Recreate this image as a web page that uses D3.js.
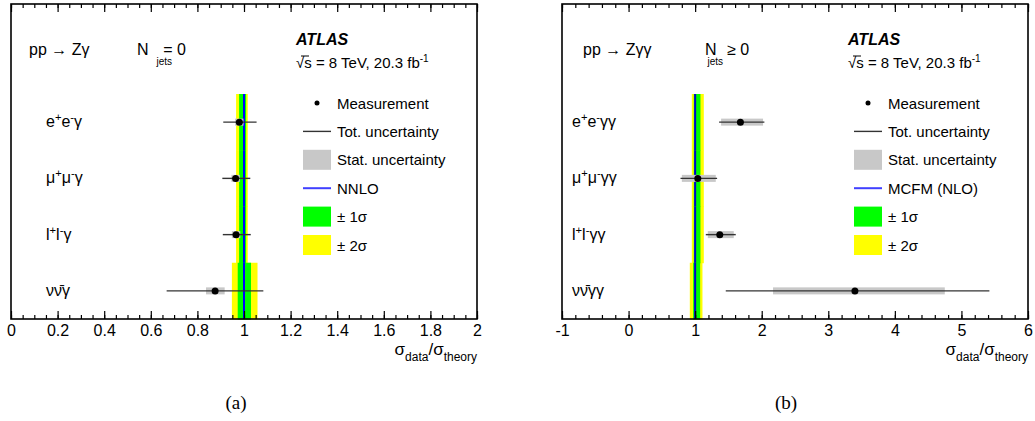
<!DOCTYPE html>
<html><head><meta charset="utf-8">
<script src="https://cdn.jsdelivr.net/npm/d3@7"></script>
<style>
html,body{margin:0;padding:0;background:#fff;}
text{font-family:"Liberation Sans",Arial,sans-serif;fill:#000;}
</style></head>
<body>
<svg id="chart" width="1035" height="421"></svg>
<script>
// ---------- DATA ----------
// panel (a): pp -> Z gamma, Njets = 0
const categoriesA = ["e+e-γ", "μ+μ-γ", "l+l-γ", "νν̄γ"];
const ratioA   = [0.980, 0.964, 0.966, 0.876];
const totLoA   = [0.911, 0.907, 0.909, 0.668];
const totHiA   = [1.054, 1.027, 1.029, 1.083];
const statLoA  = [0.962, 0.946, 0.948, 0.837];
const statHiA  = [0.998, 0.982, 0.984, 0.917];
const theoryA  = [1.0, 1.0, 1.0, 1.0];
const sig1LoA  = [0.979, 0.979, 0.979, 0.973];
const sig1HiA  = [1.009, 1.009, 1.009, 1.030];
const sig2LoA  = [0.966, 0.966, 0.966, 0.948];
const sig2HiA  = [1.016, 1.016, 1.016, 1.058];
const tickLabelsA = [0, 0.2, 0.4, 0.6, 0.8, 1, 1.2, 1.4, 1.6, 1.8, 2];

// panel (b): pp -> Z gamma gamma, Njets >= 0
const categoriesB = ["e+e-γγ", "μ+μ-γγ", "l+l-γγ", "νν̄γγ"];
const ratioB   = [1.68, 1.04, 1.37, 3.40];
const totLoB   = [1.36, 0.78, 1.16, 1.46];
const totHiB   = [2.04, 1.33, 1.61, 5.42];
const statLoB  = [1.39, 0.80, 1.19, 2.17];
const statHiB  = [2.02, 1.31, 1.58, 4.75];
const theoryB  = [1.0, 1.0, 1.0, 1.0];
const sig1LoB  = [0.98, 0.98, 0.98, 0.97];
const sig1HiB  = [1.08, 1.08, 1.08, 1.075];
const sig2LoB  = [0.95, 0.95, 0.95, 0.92];
const sig2HiB  = [1.13, 1.13, 1.13, 1.11];
const tickLabelsB = [-1, 0, 1, 2, 3, 4, 5, 6];

const legendLabelsA = ["Measurement", "Tot. uncertainty", "Stat. uncertainty", "NNLO", "± 1σ", "± 2σ"];
const legendLabelsB = ["Measurement", "Tot. uncertainty", "Stat. uncertainty", "MCFM (NLO)", "± 1σ", "± 2σ"];

// ---------- DRAW ----------
const svg = d3.select("#chart");
const FONT = 15;

// split a label into runs: '+'/'-' are superscripts
function runs(str) {
  const out = [];
  for (const ch of str) {
    const sup = (ch === "+" || ch === "-");
    const last = out[out.length - 1];
    if (/\p{M}/u.test(ch) && last) { last.text += ch; continue; }
    if (last && last.sup === sup && !sup) last.text += ch;
    else out.push({ text: ch, sup });
  }
  return out;
}

function labelText(g, str, x, y, size) {
  const t = g.append("text").attr("x", x).attr("y", y).style("font-size", size + "px");
  let level = 0;
  runs(str).forEach(r => {
    const target = r.sup ? -6 : 0;
    const ts = t.append("tspan").attr("dy", target - level).text(r.text);
    if (r.sup) ts.style("font-size", (size * 0.7) + "px");
    level = target;
  });
  return t;
}

function drawPanel(cfg) {
  const g = svg.append("g");
  const x = d3.scaleLinear().domain(cfg.domain).range([cfg.left, cfg.right]);
  const y = d3.scaleLinear().domain([-0.5, 3.5]).range([94, cfg.bottom]);
  const idx = cfg.cats.map((d, i) => i);

  // theory bands
  g.selectAll(".y2").data(idx).join("rect")
    .attr("x", i => x(cfg.s2lo[i])).attr("width", i => x(cfg.s2hi[i]) - x(cfg.s2lo[i]))
    .attr("y", i => y(i - 0.5)).attr("height", i => y(i + 0.5) - y(i - 0.5) + 0.5)
    .attr("fill", "#ffff00");
  g.selectAll(".g1").data(idx).join("rect")
    .attr("x", i => x(cfg.s1lo[i])).attr("width", i => x(cfg.s1hi[i]) - x(cfg.s1lo[i]))
    .attr("y", i => y(i - 0.5)).attr("height", i => y(i + 0.5) - y(i - 0.5) + 0.5)
    .attr("fill", "#00ff00");
  g.selectAll(".th").data(idx).join("line")
    .attr("x1", i => x(cfg.theory[i])).attr("x2", i => x(cfg.theory[i]))
    .attr("y1", i => y(i - 0.5)).attr("y2", i => y(i + 0.5))
    .attr("stroke", cfg.lineColor).attr("stroke-width", 2);

  // stat
  g.selectAll(".st").data(idx).join("rect")
    .attr("x", i => x(cfg.statLo[i])).attr("width", i => x(cfg.statHi[i]) - x(cfg.statLo[i]))
    .attr("y", i => y(i) - 3.5).attr("height", 7)
    .attr("fill", "#c8c8c8");
  // total
  g.selectAll(".tot").data(idx).join("line")
    .attr("x1", i => x(cfg.totLo[i])).attr("x2", i => x(cfg.totHi[i]))
    .attr("y1", i => y(i)).attr("y2", i => y(i))
    .attr("stroke", "#333").attr("stroke-width", 1.4);
  // points
  g.selectAll(".pt").data(idx).join("circle")
    .attr("cx", i => x(cfg.ratio[i])).attr("cy", i => y(i)).attr("r", 3.5).attr("fill", "#000");

  // category labels
  idx.forEach(i => labelText(g, cfg.cats[i], cfg.catX, y(i) + 5, 16));

  // axes
  const minor = x.ticks(cfg.minorCount);
  g.append("g").attr("transform", `translate(0,${cfg.bottom})`)
    .call(d3.axisBottom(x).tickValues(minor).tickSize(-4).tickFormat(""))
    .call(a => a.select(".domain").remove());
  g.append("g").attr("transform", `translate(0,${cfg.bottom})`)
    .call(d3.axisBottom(x).tickValues(cfg.ticks).tickSizeInner(-8).tickSizeOuter(0).tickPadding(6)
      .tickFormat(d => String(d)))
    .call(a => a.select(".domain").remove())
    .call(a => a.selectAll("text").style("font-size", "16px").style("font-family", "Liberation Sans, Arial, sans-serif"));
  g.append("g").attr("transform", `translate(0,${cfg.top})`)
    .call(d3.axisTop(x).tickValues(minor).tickSize(-4).tickFormat(""))
    .call(a => a.select(".domain").remove());
  g.append("g").attr("transform", `translate(0,${cfg.top})`)
    .call(d3.axisTop(x).tickValues(cfg.ticks).tickSize(-8).tickFormat(""))
    .call(a => a.select(".domain").remove());
  g.selectAll(".tick line").attr("stroke", "#000").attr("stroke-width", 1.2);

  // frame
  g.append("rect").attr("x", cfg.left).attr("y", cfg.top)
    .attr("width", cfg.right - cfg.left).attr("height", cfg.bottom - cfg.top)
    .attr("fill", "none").attr("stroke", "#000").attr("stroke-width", 1.6);

  // axis title
  const at = g.append("text").attr("x", cfg.right).attr("y", 355).attr("text-anchor", "end").style("font-size", "17px");
  at.append("tspan").text("σ");
  at.append("tspan").attr("dy", 6).style("font-size", "12px").text("data");
  at.append("tspan").attr("dy", -6).text("/σ");
  at.append("tspan").attr("dy", 6).style("font-size", "12px").text("theory");

  // header texts
  g.append("text").attr("x", cfg.procX).attr("y", 55).style("font-size", "16px").text(cfg.proc);
  const nt = g.append("text").attr("x", cfg.nX).attr("y", 55).style("font-size", "16px");
  nt.append("tspan").text("N");
  nt.append("tspan").attr("dx", cfg.jetsDx).attr("dy", 10).style("font-size", "10px").text("jets");
  nt.append("tspan").attr("dx", cfg.eqDx).attr("dy", -10).text(cfg.nTxt);
  g.append("text").attr("x", cfg.atlasX).attr("y", 45).style("font-size", "16px")
    .style("font-weight", "bold").style("font-style", "italic").text("ATLAS");
  const s = g.append("text").attr("x", cfg.atlasX).attr("y", 68).style("font-size", FONT + "px");
  s.append("tspan").text("√s = 8 TeV, 20.3 fb");
  s.append("tspan").attr("dy", -6).style("font-size", "10px").text("-1");
  g.append("line").attr("x1", cfg.atlasX + 5).attr("x2", cfg.atlasX + 13).attr("y1", 56).attr("y2", 56)
    .attr("stroke", "#000").attr("stroke-width", 1);

  // legend
  const lx = cfg.legX, ly0 = 103, dy = 28.4, sw = 28;
  const ly = k => ly0 + k * dy;
  g.append("circle").attr("cx", lx + sw / 2).attr("cy", ly(0)).attr("r", 2.5).attr("fill", "#000");
  g.append("line").attr("x1", lx).attr("x2", lx + sw).attr("y1", ly(1)).attr("y2", ly(1)).attr("stroke", "#333").attr("stroke-width", 1.4);
  g.append("rect").attr("x", lx).attr("y", ly(2) - 10).attr("width", sw).attr("height", 20).attr("fill", "#c8c8c8");
  g.append("line").attr("x1", lx).attr("x2", lx + sw).attr("y1", ly(3)).attr("y2", ly(3)).attr("stroke", "#4040ff").attr("stroke-width", 2);
  g.append("rect").attr("x", lx).attr("y", ly(4) - 10).attr("width", sw).attr("height", 20).attr("fill", "#00ff00");
  g.append("rect").attr("x", lx).attr("y", ly(5) - 10).attr("width", sw).attr("height", 20).attr("fill", "#ffff00");
  cfg.legend.forEach((t, k) => {
    g.append("text").attr("x", lx + sw + 6).attr("y", ly(k) + 5.5).style("font-size", FONT + "px").text(t);
  });

  // panel label
  svg.append("text").attr("x", cfg.panelX).attr("y", 409).attr("text-anchor", "middle")
    .style("font-family", "Liberation Serif, Times New Roman, serif").style("font-size", "19px").text(cfg.panel);
}

drawPanel({
  domain: [0, 2], left: 11, right: 477, top: 4, bottom: 319, minorCount: 40,
  cats: categoriesA, ratio: ratioA, totLo: totLoA, totHi: totHiA, statLo: statLoA, statHi: statHiA,
  theory: theoryA, s1lo: sig1LoA, s1hi: sig1HiA, s2lo: sig2LoA, s2hi: sig2HiA, ticks: tickLabelsA,
  lineColor: "#0000ff", catX: 46, proc: "pp → Zγ", procX: 29, nX: 137, jetsDx: 8, eqDx: -9, nTxt: "= 0",
  atlasX: 296, legX: 303, legend: legendLabelsA, panel: "(a)", panelX: 236
});
drawPanel({
  domain: [-1, 6], left: 562, right: 1028, top: 4, bottom: 319, minorCount: 35,
  cats: categoriesB, ratio: ratioB, totLo: totLoB, totHi: totHiB, statLo: statLoB, statHi: statHiB,
  theory: theoryB, s1lo: sig1LoB, s1hi: sig1HiB, s2lo: sig2LoB, s2hi: sig2HiB, ticks: tickLabelsB,
  lineColor: "#0000cc", catX: 572, proc: "pp → Zγγ", procX: 583, nX: 705, jetsDx: -9, eqDx: 4, nTxt: "≥ 0",
  atlasX: 848, legX: 854, legend: legendLabelsB, panel: "(b)", panelX: 786
});
</script>
</body></html>
